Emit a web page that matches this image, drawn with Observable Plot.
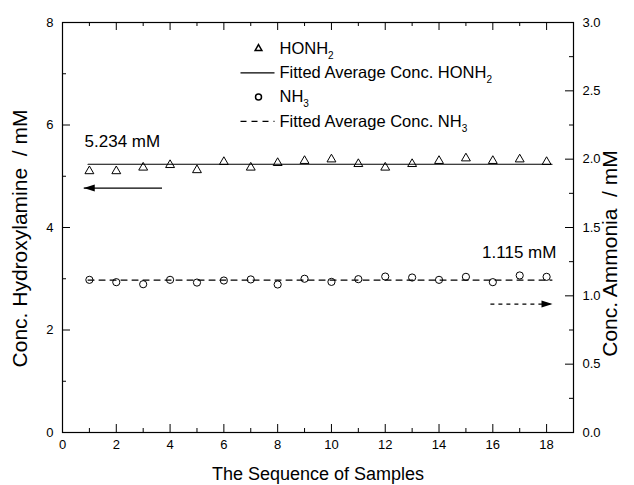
<!DOCTYPE html>
<html><head><meta charset="utf-8">
<script src="https://cdn.jsdelivr.net/npm/d3@7"></script>
<script src="https://cdn.jsdelivr.net/npm/@observablehq/plot@0.6"></script>
<style>
html,body{margin:0;padding:0;background:#fff;color:#000;}
#chart svg{font-family:'Liberation Sans', Arial, sans-serif;}
svg text{white-space:pre;}
</style></head><body><div id="chart"></div>
<script>
// ---- data ----
const samples = [1,2,3,4,5,6,7,8,9,10,11,12,13,14,15,16,17,18];
const honh2 = [5.10,5.10,5.17,5.22,5.12,5.28,5.17,5.26,5.30,5.33,5.24,5.17,5.24,5.30,5.35,5.30,5.33,5.28];
const nh3 = [1.117,1.100,1.085,1.117,1.097,1.112,1.120,1.083,1.125,1.102,1.122,1.141,1.134,1.117,1.139,1.100,1.149,1.139];
const honh2Avg = 5.234;
const nh3Avg = 1.115;
const fitX = [0.95, 18.2];
const xMajor = [0,2,4,6,8,10,12,14,16,18];
const xMinor = [1,3,5,7,9,11,13,15,17];
const yLeftMajor = [0,2,4,6,8];
const yLeftMinor = [1,3,5,7];
const yRightMajor = [0,0.5,1.0,1.5,2.0,2.5,3.0];
const yRightMinor = [0.25,0.75,1.25,1.75,2.25,2.75];
const legendLabels = ["HONH_2","Fitted Average Conc. HONH_2","NH_3","Fitted Average Conc. NH_3"];
const legendKinds = ["triangle","solid","circle","dashed"];

// ---- layout ----
const W=634,H=485,mL=62,mR=61,mT=22,mB=53;
const FW = W-mL-mR, FH = H-mT-mB;
const xDomain=[0,19], yDomain=[0,8], yRightDomain=[0,3];
const k = (yDomain[1]-yDomain[0])/(yRightDomain[1]-yRightDomain[0]);
const px = p => xDomain[0] + (p-mL)/FW*(xDomain[1]-xDomain[0]);
const py = p => yDomain[0] + (H-mB-p)/FH*(yDomain[1]-yDomain[0]);
const frameMidY = (mT + H - mB)/2;

const rows = samples.map((s,i)=>({s, a:honh2[i], b:nh3[i]*k}));
const fitA = fitX.map(x=>({x, y:honh2Avg}));
const fitB = fitX.map(x=>({x, y:nh3Avg*k}));

// annotations (x in samples, y in each axis' units)
const leftArrow = {x1:3.70, x2:0.79, y:4.77};
const rightArrow = {x1:15.91, x2:18.22, y:0.94*k};
const annA = {x:0.82, y:5.68, text:"5.234 mM"};
const annB = {x:15.6, y:1.32*k, text:"1.115 mM"};

const headLeft = {draw(c){c.moveTo(0,0);c.lineTo(11,-3.5);c.lineTo(11,3.5);c.closePath();}};
const headRight = {draw(c){c.moveTo(0,0);c.lineTo(-11,-3.5);c.lineTo(-11,3.5);c.closePath();}};

// legend geometry
const legRowY = i => 48 + i*24.3;
const legSymX = 258, legTextX = 279, legLineX = [240,274];
const legend = legendLabels.map((label,i)=>({label, kind:legendKinds[i], y:py(legRowY(i))}));

const MJ = 8, MN = 4;
const yR = v => v*k;
const plot = Plot.plot({
  width:W, height:H, marginLeft:mL, marginRight:mR, marginTop:mT, marginBottom:mB,
  x:{domain:xDomain},
  y:{domain:yDomain},
  marks:[
    // inward ticks
    Plot.ruleX(xMajor, {x:d=>d, insetTop:FH-MJ, stroke:"black"}),
    Plot.ruleX(xMinor, {x:d=>d, insetTop:FH-MN, stroke:"black"}),
    Plot.ruleX(xMajor, {x:d=>d, insetBottom:FH-MJ, stroke:"black"}),
    Plot.ruleX(xMinor, {x:d=>d, insetBottom:FH-MN, stroke:"black"}),
    Plot.ruleY(yLeftMajor, {y:d=>d, insetRight:FW-MJ, stroke:"black"}),
    Plot.ruleY(yLeftMinor, {y:d=>d, insetRight:FW-MN, stroke:"black"}),
    Plot.ruleY(yRightMajor, {y:yR, insetLeft:FW-MJ, stroke:"black"}),
    Plot.ruleY(yRightMinor, {y:yR, insetLeft:FW-MN, stroke:"black"}),
    // tick labels
    Plot.axisX({anchor:"bottom", ticks:xMajor, tickSize:0, tickPadding:7, fontSize:13, label:null}),
    Plot.axisY({anchor:"left", ticks:yLeftMajor, tickSize:0, tickPadding:9, fontSize:13, label:null}),
    Plot.axisY({anchor:"right", ticks:yRightMajor.map(yR), tickSize:0, tickPadding:9, fontSize:13, label:null, tickFormat:d=>(d/k).toFixed(1)}),
    // axis titles
    Plot.text(["Conc. Hydroxylamine  / mM"], {frameAnchor:"left", dx:-42, dy:238-frameMidY, rotate:-90, textAnchor:"middle", lineAnchor:"middle", fontSize:21, fill:"black"}),
    Plot.text(["Conc. Ammonia  / mM"], {frameAnchor:"right", dx:37, dy:253-frameMidY, rotate:-90, textAnchor:"middle", lineAnchor:"middle", fontSize:21, fill:"black"}),
    Plot.text(["The Sequence of Samples"], {frameAnchor:"bottom", dy:42, textAnchor:"middle", lineAnchor:"middle", fontSize:18, fill:"black"}),
    // data
    Plot.line(fitA, {x:"x", y:"y", stroke:"black", strokeWidth:1.2}),
    Plot.line(fitB, {x:"x", y:"y", stroke:"black", strokeWidth:1.2, strokeDasharray:"6,5"}),
    Plot.dot(rows, {x:"s", y:"a", symbol:"triangle", r:3.3, stroke:"black", fill:"none", strokeWidth:1}),
    Plot.dot(rows, {x:"s", y:"b", symbol:"circle", r:3.6, stroke:"black", fill:"none", strokeWidth:1}),
    // annotations
    Plot.link([leftArrow], {x1:"x1", x2:"x2", y1:"y", y2:"y", stroke:"black", strokeWidth:1.2}),
    Plot.dot([leftArrow], {x:"x2", y:"y", symbol:headLeft, fill:"black", stroke:"none"}),
    Plot.link([rightArrow], {x1:"x1", x2:"x2", y1:"y", y2:"y", stroke:"black", strokeWidth:1.2, strokeDasharray:"4,4"}),
    Plot.dot([rightArrow], {x:"x2", y:"y", symbol:headRight, fill:"black", stroke:"none"}),
    Plot.text([annA, annB], {x:"x", y:"y", text:"text", textAnchor:"start", fontSize:17, fill:"black"}),
    // legend
    Plot.dot(legend.filter(d=>d.kind==="triangle"), {x:()=>px(legSymX), y:"y", symbol:"triangle", r:2.5, stroke:"black", fill:"none"}),
    Plot.dot(legend.filter(d=>d.kind==="circle"), {x:()=>px(legSymX), y:"y", symbol:"circle", r:3, stroke:"black", fill:"none"}),
    Plot.link(legend.filter(d=>d.kind==="solid"), {x1:()=>px(legLineX[0]), x2:()=>px(legLineX[1]), y1:"y", y2:"y", stroke:"black", strokeWidth:1.2}),
    Plot.link(legend.filter(d=>d.kind==="dashed"), {x1:()=>px(legLineX[0]), x2:()=>px(legLineX[1]), y1:"y", y2:"y", stroke:"black", strokeWidth:1.2, strokeDasharray:"6,5"}),
    Plot.text(legend, {x:()=>px(legTextX), y:"y", text:"label", textAnchor:"start", fontSize:16.5, fill:"black"}),
    Plot.frame({stroke:"black", strokeWidth:1.2})
  ]
});

// subscripts
d3.select(plot).selectAll("text").each(function(){
  const t = this.textContent;
  if (t.includes("_")) {
    const [main, sub] = t.split("_");
    const sel = d3.select(this);
    sel.text(null);
    sel.append("tspan").text(main);
    sel.append("tspan").attr("dy","5").attr("font-size","10").text(sub);
  }
});
document.getElementById("chart").appendChild(plot);
</script></body></html>
